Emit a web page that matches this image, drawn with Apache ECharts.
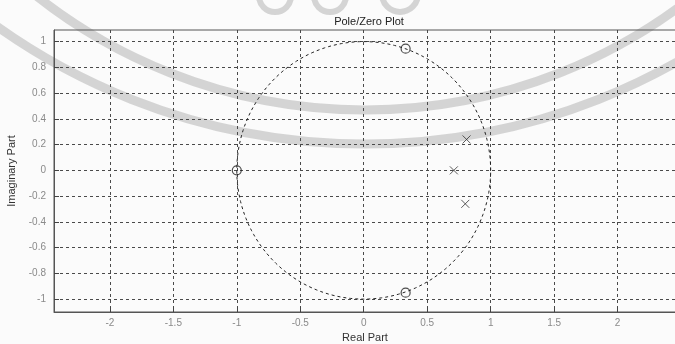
<!DOCTYPE html>
<html>
<head>
<meta charset="utf-8">
<script src="https://cdn.jsdelivr.net/npm/echarts@6/dist/echarts.min.js"></script>
<style>
  html, body { margin: 0; padding: 0; background: #fbfbfb; }
  #chart { width: 675px; height: 344px; }
</style>
</head>
<body>
<div id="chart"></div>
<script>
// Zeros (o) and poles (x) of the system, as [real, imaginary]
const zeros = [[-1, 0], [0.33, 0.945], [0.33, -0.95]];
const poles = [[0.71, 0], [0.81, 0.24], [0.80, -0.26]];

// Tick positions for both axes
const xTicks = [-2, -1.5, -1, -0.5, 0, 0.5, 1, 1.5, 2];
const yTicks = [-1, -0.8, -0.6, -0.4, -0.2, 0, 0.2, 0.4, 0.6, 0.8, 1];

// Radius of the reference unit circle
const unitRadius = 1;

const gridColor = '#4a4a4a';
const labelFont = 'Liberation Sans, Arial, sans-serif';
const markColor = 'rgba(150,150,150,0.38)';

const chart = echarts.init(document.getElementById('chart'), null, { renderer: 'canvas' });

chart.setOption({
  backgroundColor: '#fbfbfb',
  animation: false,
  title: {
    text: 'Pole/Zero Plot',
    left: 364, top: 11, textAlign: 'center',
    textStyle: { fontFamily: labelFont, fontSize: 11, fontWeight: 'normal', color: '#222' }
  },
  // faint stamp behind the plot: two broad arcs and a small seal
  graphic: [
    { type: 'arc', silent: true, z: -10,
      shape: { cx: 365, cy: -420, r: 530, startAngle: 0, endAngle: Math.PI },
      style: { fill: 'none', stroke: markColor, lineWidth: 9 } },
    { type: 'arc', silent: true, z: -10,
      shape: { cx: 365, cy: -490, r: 634, startAngle: 0, endAngle: Math.PI },
      style: { fill: 'none', stroke: markColor, lineWidth: 9 } },
    { type: 'circle', silent: true, z: -10,
      shape: { cx: 275, cy: -4, r: 16 },
      style: { fill: 'none', stroke: markColor, lineWidth: 6 } },
    { type: 'circle', silent: true, z: -10,
      shape: { cx: 330, cy: -4, r: 16 },
      style: { fill: 'none', stroke: markColor, lineWidth: 6 } },
    { type: 'circle', silent: true, z: -10,
      shape: { cx: 400, cy: -6, r: 18 },
      style: { fill: 'none', stroke: markColor, lineWidth: 6 } }
  ],
  grid: {
    left: 54, top: 30, width: 622, height: 282,
    outerBoundsMode: 'none', containLabel: false,
    show: true, borderColor: '#555', borderWidth: 1, backgroundColor: 'transparent'
  },
  xAxis: {
    type: 'value', min: -2.44, max: 2.46,
    name: 'Real Part', nameLocation: 'middle', nameGap: 17,
    nameTextStyle: { fontFamily: labelFont, fontSize: 11, color: '#333' },
    axisLine: { show: true, onZero: false, lineStyle: { color: '#555', width: 1 } },
    axisTick: { show: true, inside: true, length: 5, customValues: xTicks, lineStyle: { color: '#444' } },
    axisLabel: { customValues: xTicks, fontFamily: labelFont, fontSize: 10, color: '#8a8a8a', margin: 6 },
    splitLine: { show: true, lineStyle: { color: gridColor, type: [3, 3], width: 1 } }
  },
  yAxis: {
    type: 'value', min: -1.1, max: 1.09,
    name: 'Imaginary Part', nameLocation: 'middle', nameGap: 33, nameRotate: 90,
    nameTextStyle: { fontFamily: labelFont, fontSize: 11, color: '#333' },
    axisLine: { show: true, onZero: false, lineStyle: { color: '#555', width: 1 } },
    axisTick: { show: true, inside: true, length: 5, customValues: yTicks, lineStyle: { color: '#444' } },
    axisLabel: { customValues: yTicks, fontFamily: labelFont, fontSize: 10, color: '#8a8a8a', margin: 8 },
    splitLine: { show: true, lineStyle: { color: gridColor, type: [3, 3], width: 1 } }
  },
  series: [
    {
      // Dashed unit circle, traced through the axis scales
      type: 'custom',
      data: [[0, 0]],
      silent: true,
      z: 3,
      renderItem: function (params, api) {
        const pts = [];
        for (let i = 0; i <= 180; i++) {
          const a = (i / 180) * Math.PI * 2;
          pts.push(api.coord([unitRadius * Math.cos(a), unitRadius * Math.sin(a)]));
        }
        return {
          type: 'polyline',
          shape: { points: pts },
          style: { fill: 'none', stroke: '#222', lineWidth: 1, lineDash: [3, 3] }
        };
      }
    },
    {
      name: 'Zeros',
      type: 'scatter',
      data: zeros,
      symbol: 'circle',
      symbolSize: 9,
      z: 5,
      itemStyle: { color: 'rgba(0,0,0,0)', borderColor: '#222', borderWidth: 1.2 }
    },
    {
      name: 'Poles',
      type: 'scatter',
      data: poles,
      symbol: 'path://M0,0L10,10M10,0L0,10',
      symbolSize: 8,
      z: 5,
      itemStyle: { color: 'rgba(0,0,0,0)', borderColor: '#333', borderWidth: 1 }
    }
  ]
});
</script>
</body>
</html>
